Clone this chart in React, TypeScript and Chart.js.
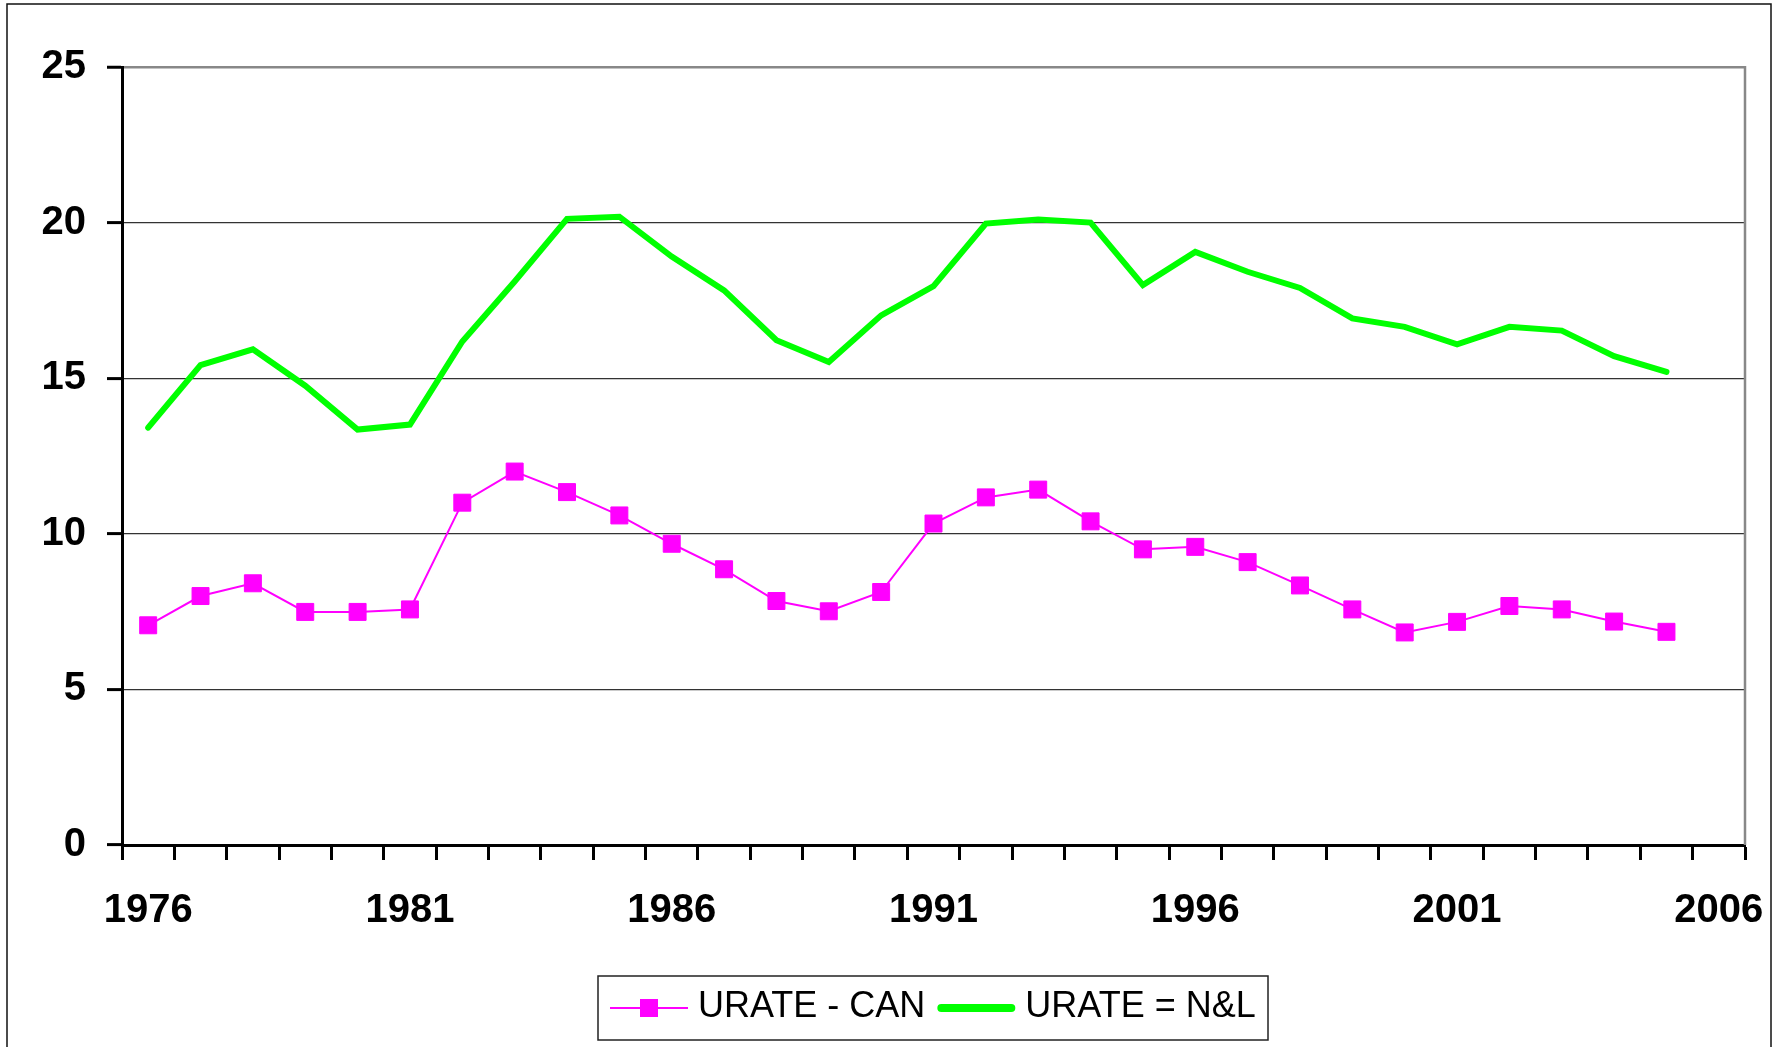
import React, { useEffect, useRef } from 'react';
import { Chart, registerables } from 'chart.js';

Chart.register(...registerables);

const years = [
  '1976', '1977', '1978', '1979', '1980', '1981', '1982', '1983', '1984', '1985',
  '1986', '1987', '1988', '1989', '1990', '1991', '1992', '1993', '1994', '1995',
  '1996', '1997', '1998', '1999', '2000', '2001', '2002', '2003', '2004', '2005',
  '2006',
];

const urateCan = [
  7.06, 8.0, 8.41, 7.49, 7.49, 7.57, 11.0, 12.0, 11.34, 10.59,
  9.68, 8.86, 7.84, 7.51, 8.13, 10.33, 11.17, 11.42, 10.4, 9.5,
  9.58, 9.09, 8.34, 7.57, 6.83, 7.17, 7.68, 7.57, 7.18, 6.85,
];

const urateNL = [
  13.41, 15.42, 15.93, 14.76, 13.35, 13.51, 16.18, 18.11, 20.12, 20.19,
  18.91, 17.82, 16.22, 15.52, 17.02, 17.96, 19.97, 20.1, 20.0, 17.99,
  19.06, 18.42, 17.9, 16.92, 16.65, 16.09, 16.65, 16.53, 15.71, 15.2,
];

const xTickLabels = ['1976', '1981', '1986', '1991', '1996', '2001', '2006'];
const seriesNames = ['URATE - CAN', 'URATE = N&L'];
const seriesColors = ['#FF00FF', '#00FF00'];

const FONT = '"Liberation Sans", Arial, Helvetica, sans-serif';

const framePlugin = {
  id: 'frame',
  beforeDraw(chart: any) {
    const ctx = chart.ctx;
    ctx.save();
    ctx.fillStyle = '#ffffff';
    ctx.fillRect(0, 0, chart.width, chart.height);
    ctx.strokeStyle = '#111';
    ctx.lineWidth = 1.5;
    ctx.strokeRect(7, 4, 1764, 1100);
    ctx.restore();
  },
  beforeDatasetsDraw(chart: any) {
    const { ctx, chartArea } = chart;
    ctx.save();
    ctx.strokeStyle = '#888';
    ctx.lineWidth = 2.5;
    ctx.beginPath();
    ctx.moveTo(chartArea.right, chartArea.top - 1);
    ctx.lineTo(chartArea.right, chartArea.bottom);
    ctx.stroke();
    ctx.restore();
  },
};

const legendPlugin = {
  id: 'boxLegend',
  afterDraw(chart: any) {
    const ctx = chart.ctx;
    ctx.save();
    const bx = 598, by = 976, bw = 670, bh = 64;
    ctx.fillStyle = '#fff';
    ctx.fillRect(bx, by, bw, bh);
    ctx.strokeStyle = '#222';
    ctx.lineWidth = 1.5;
    ctx.strokeRect(bx, by, bw, bh);
    const cy = by + bh / 2;
    ctx.font = `36px ${FONT}`;
    ctx.textBaseline = 'middle';
    let x = bx + 12;
    chart.data.datasets.forEach((ds: any) => {
      const sw = 78;
      ctx.strokeStyle = ds.borderColor;
      ctx.lineWidth = ds.legendLineWidth;
      ctx.lineCap = ds.pointRadius > 0 ? 'butt' : 'round';
      ctx.beginPath();
      ctx.moveTo(x + (ds.pointRadius > 0 ? 0 : 4), cy);
      ctx.lineTo(x + sw - (ds.pointRadius > 0 ? 0 : 4), cy);
      ctx.stroke();
      if (ds.pointRadius > 0) {
        ctx.fillStyle = ds.pointBackgroundColor;
        ctx.fillRect(x + sw / 2 - 9, cy - 9, 18, 18);
      }
      x += sw + 10;
      ctx.fillStyle = '#000';
      ctx.fillText(ds.label, x, cy - 1);
      x += ctx.measureText(ds.label).width + 12;
    });
    ctx.restore();
  },
};

export default function App() {
  const canvasRef = useRef<HTMLCanvasElement | null>(null);

  useEffect(() => {
    if (!canvasRef.current) return;
    const chart = new Chart(canvasRef.current, {
      type: 'line',
      data: {
        labels: years,
        datasets: [
          {
            label: seriesNames[0],
            data: urateCan,
            borderColor: seriesColors[0],
            backgroundColor: seriesColors[0],
            borderWidth: 2,
            pointStyle: 'rect',
            pointRadius: 12,
            pointHoverRadius: 12,
            pointBackgroundColor: seriesColors[0],
            pointBorderColor: seriesColors[0],
            pointBorderWidth: 1,
            tension: 0,
            legendLineWidth: 2,
          } as any,
          {
            label: seriesNames[1],
            data: urateNL,
            borderColor: seriesColors[1],
            backgroundColor: seriesColors[1],
            borderWidth: 6,
            borderCapStyle: 'round',
            borderJoinStyle: 'miter',
            pointRadius: 0,
            pointHoverRadius: 0,
            tension: 0,
            legendLineWidth: 8,
          } as any,
        ],
      },
      options: {
        responsive: false,
        animation: false,
        layout: { padding: { top: 67, right: 37, bottom: 0, left: 0 } },
        plugins: {
          legend: { display: false },
          tooltip: { enabled: false },
        },
        scales: {
          x: {
            type: 'category',
            offset: true,
            afterFit: (scale: any) => {
              scale.height = 202;
              scale.paddingLeft = 0;
              scale.paddingRight = 0;
            },
            grid: {
              display: true,
              drawOnChartArea: false,
              drawTicks: true,
              tickLength: 15,
              tickColor: '#000',
              tickWidth: 3,
              offset: true,
            },
            border: { display: true, color: '#000', width: 3 },
            ticks: {
              autoSkip: false,
              maxRotation: 0,
              minRotation: 0,
              padding: 27,
              color: '#000',
              font: { family: FONT, size: 40, weight: 'bold' },
              callback: function (this: any, _v: any, idx: number) {
                const lab = years[idx];
                return xTickLabels.includes(lab) ? lab : '';
              },
            },
          },
          y: {
            min: 0,
            max: 25,
            afterFit: (scale: any) => {
              scale.width = 122;
              scale.paddingTop = 0;
              scale.paddingBottom = 0;
            },
            grid: {
              color: (c: any) =>
                c.tick && c.tick.value === 25 ? '#888' : c.tick && c.tick.value === 0 ? '#000' : '#333',
              lineWidth: (c: any) => (c.tick && c.tick.value === 25 ? 2.5 : 1.2),
              drawTicks: true,
              tickLength: 15,
              tickColor: '#000',
              tickWidth: 3,
            },
            border: { display: true, color: '#000', width: 3 },
            ticks: {
              stepSize: 5,
              padding: 21,
              color: '#000',
              font: { family: FONT, size: 40, weight: 'bold' },
            },
          },
        },
      },
      plugins: [framePlugin, legendPlugin],
    } as any);
    return () => chart.destroy();
  }, []);

  return (
    <div style={{ position: 'absolute', left: 0, top: 0, width: 1782, height: 1047, background: '#fff' }}>
      <canvas ref={canvasRef} width={1782} height={1047} style={{ display: 'block' }} />
    </div>
  );
}
